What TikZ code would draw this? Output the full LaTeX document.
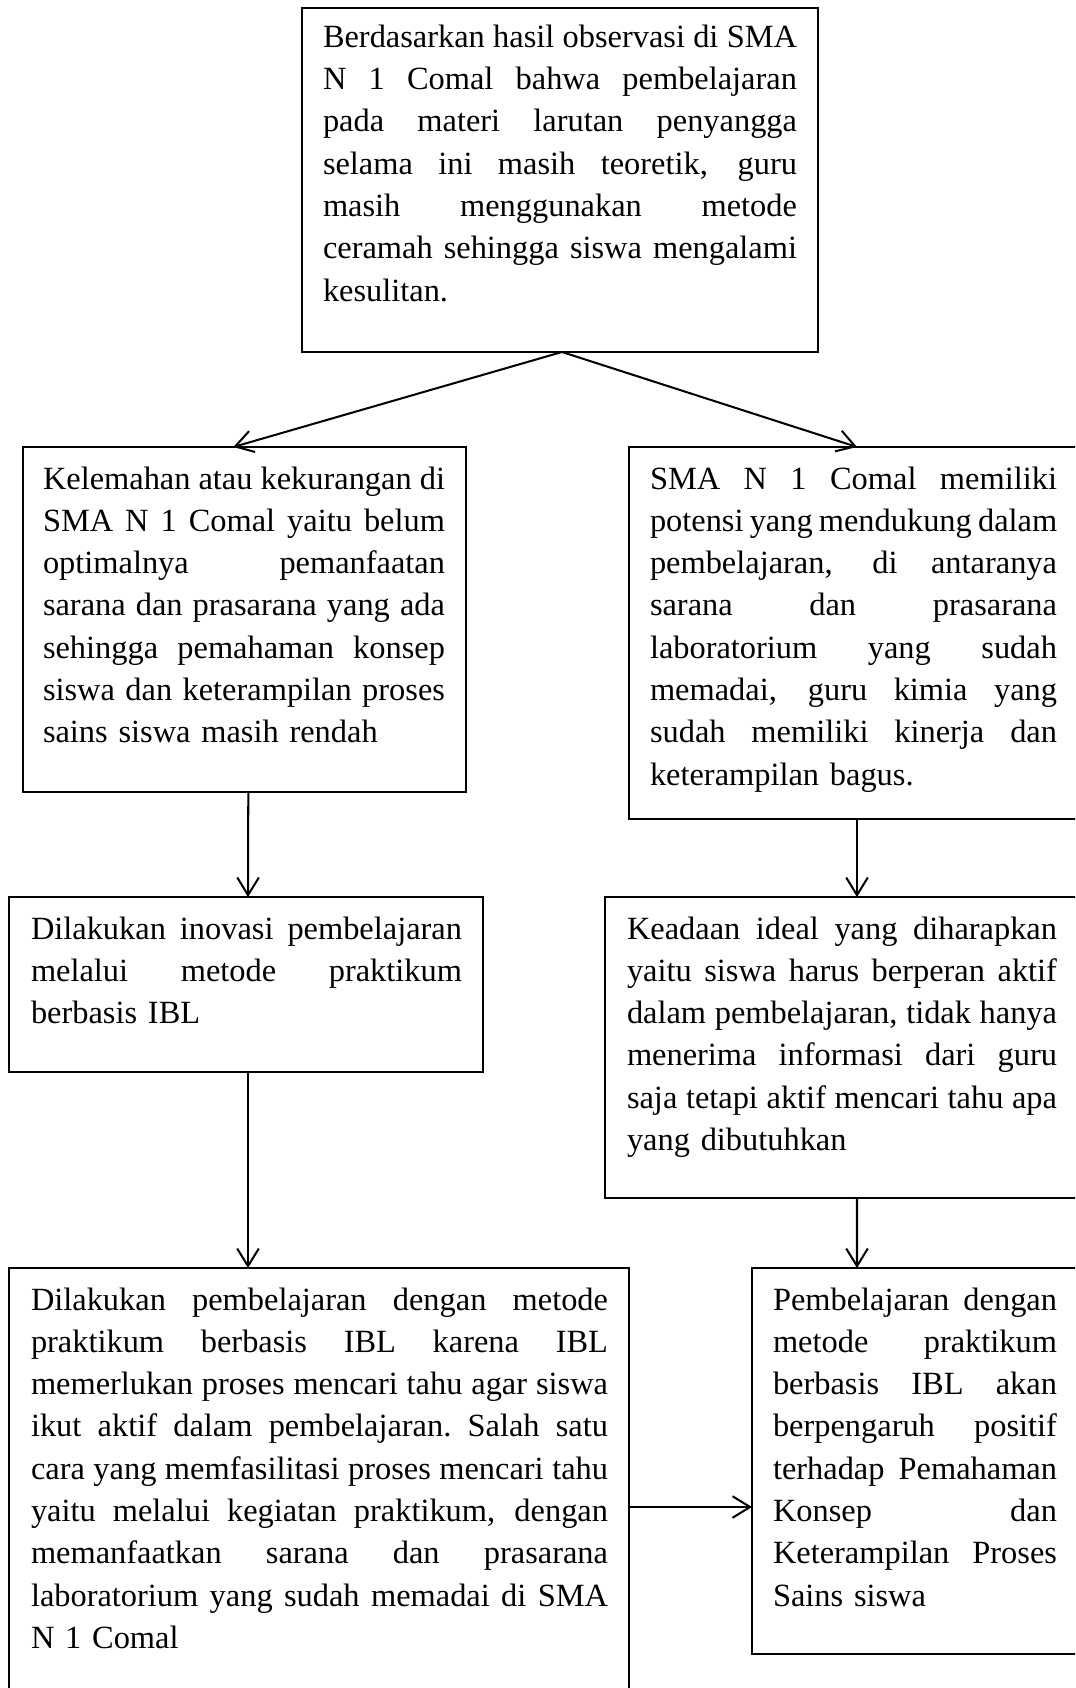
\documentclass[tikz,border=0pt]{standalone}
\usepackage{fontspec}
\setmainfont{Liberation Serif}
\usetikzlibrary{arrows.meta}
\def\u{0.37037pt}
\def\jlw{100pt}
\newcommand\jl[1]{\makebox[\jlw][s]{\spaceskip=0.25em plus 2em minus 0.06em\relax #1}\\}
\tikzset{
  box/.style={draw, line width=0.75pt, inner sep=0pt, outer sep=0pt, anchor=north west},
  txt/.style={anchor=base west, inner sep=0pt, outer sep=0pt, align=left,
    font=\fontsize{12}{15.67}\selectfont},
  arr/.style={line width=0.75pt, -{Straight Barb[length=6.5pt,width=8pt,line width=0.75pt]}}
}
\begin{document}
\begin{tikzpicture}[x=\u, y=-\u]
\useasboundingbox (0,0) rectangle (1075,1688);
\clip (0,0) rectangle (1075,1688);
% boxes
\node[box, minimum width={516*\u}, minimum height={343.7*\u}] (top) at (302,8.3) {};
\node[box, minimum width={443.4*\u}, minimum height={345*\u}] (kl) at (22.6,447) {};
\node[box, minimum width={449*\u}, minimum height={372*\u}] (kr) at (629,447) {};
\node[box, minimum width={474*\u}, minimum height={175*\u}] (il) at (9,897) {};
\node[box, minimum width={473*\u}, minimum height={301*\u}] (ir) at (605,897) {};
\node[box, minimum width={620*\u}, minimum height={440*\u}] (bl) at (9,1268) {};
\node[box, minimum width={326*\u}, minimum height={386*\u}] (br) at (752,1268) {};
% texts
\node[txt, text width={474*\u}] (ttop) at (323,47.3) {\def\jlw{175.55pt}%
\jl{Berdasarkan hasil observasi di SMA}%
\jl{N 1 Comal bahwa pembelajaran}%
\jl{pada materi larutan penyangga}%
\jl{selama ini masih teoretik, guru}%
\jl{masih menggunakan metode}%
\jl{ceramah sehingga siswa mengalami}%
kesulitan.};
\node[txt, text width={402*\u}] (tkl) at (43,489) {\def\jlw{148.89pt}%
\jl{Kelemahan atau kekurangan di}%
\jl{SMA N 1 Comal yaitu belum}%
\jl{optimalnya pemanfaatan}%
\jl{sarana dan prasarana yang ada}%
\jl{sehingga pemahaman konsep}%
\jl{siswa dan keterampilan proses}%
sains siswa masih rendah};
\node[txt, text width={407*\u}] (tkr) at (650,489) {\def\jlw{150.74pt}%
\jl{SMA N 1 Comal memiliki}%
\jl{potensi yang mendukung dalam}%
\jl{pembelajaran, di antaranya}%
\jl{sarana dan prasarana}%
\jl{laboratorium yang sudah}%
\jl{memadai, guru kimia yang}%
\jl{sudah memiliki kinerja dan}%
keterampilan bagus.};
\node[txt, text width={431*\u}] (til) at (31,939) {\def\jlw{159.63pt}%
\jl{Dilakukan inovasi pembelajaran}%
\jl{melalui metode praktikum}%
berbasis IBL};
\node[txt, text width={430*\u}] (tir) at (627,939) {\def\jlw{159.26pt}%
\jl{Keadaan ideal yang diharapkan}%
\jl{yaitu siswa harus berperan aktif}%
\jl{dalam pembelajaran, tidak hanya}%
\jl{menerima informasi dari guru}%
\jl{saja tetapi aktif mencari tahu apa}%
yang dibutuhkan};
\node[txt, text width={577*\u}] (tbl) at (31,1310) {\def\jlw{213.70pt}%
\jl{Dilakukan pembelajaran dengan metode}%
\jl{praktikum berbasis IBL karena IBL}%
\jl{memerlukan proses mencari tahu agar siswa}%
\jl{ikut aktif dalam pembelajaran. Salah satu}%
\jl{cara yang memfasilitasi proses mencari tahu}%
\jl{yaitu melalui kegiatan praktikum, dengan}%
\jl{memanfaatkan sarana dan prasarana}%
\jl{laboratorium yang sudah memadai di SMA}%
N 1 Comal};
\node[txt, text width={284*\u}] (tbr) at (773,1310) {\def\jlw{105.19pt}%
\jl{Pembelajaran dengan}%
\jl{metode praktikum}%
\jl{berbasis IBL akan}%
\jl{berpengaruh positif}%
\jl{terhadap Pemahaman}%
\jl{Konsep dan}%
\jl{Keterampilan Proses}%
Sains siswa};
% connectors
\draw[arr] ([xshift=2*\u]top.south) -- ([xshift=-11*\u]kl.north);
\draw[arr] ([xshift=2*\u]top.south) -- ([xshift=3.5*\u]kr.north);
\draw[arr] ([xshift=4*\u]kl.south) -- ([xshift=2*\u]il.north);
\draw[arr] ([xshift=3.5*\u]kr.south) -- ([xshift=15.5*\u]ir.north);
\draw[arr] ([xshift=2*\u]il.south) -- ([xshift=-71*\u]bl.north);
\draw[arr] ([xshift=15.5*\u]ir.south) -- ([xshift=-58*\u]br.north);
\draw[arr] ([yshift=-19*\u]bl.east) -- ([yshift=-19*\u]bl.east -| br.west);
\end{tikzpicture}
\end{document}
